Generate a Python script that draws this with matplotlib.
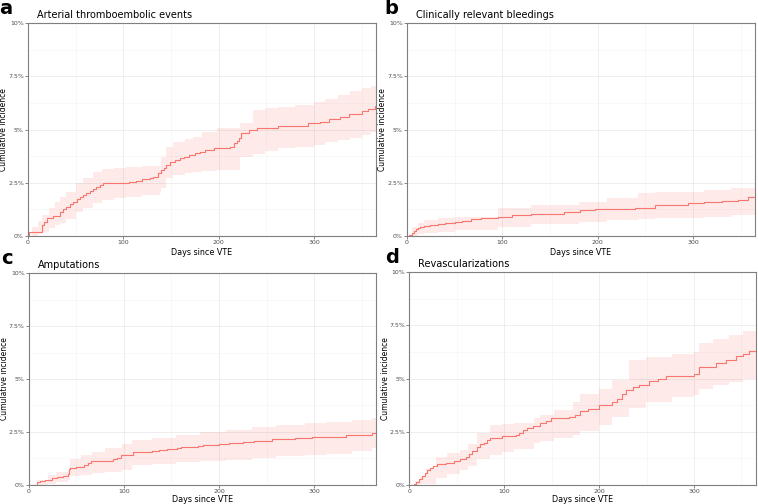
import matplotlib
matplotlib.use("Agg")
import matplotlib.pyplot as plt

# ---- data (days since VTE, cumulative incidence in %) ----
titles = ["Arterial thromboembolic events", "Clinically relevant bleedings",
          "Amputations", "Revascularizations"]
letters = ["a", "b", "c", "d"]

yticks = [0, 2.5, 5, 7.5, 10]
ytick_labels = ["0%", "2.5%", "5%", "7.5%", "10%"]
xticks = [0, 100, 200, 300]

# a: arterial thromboembolic events
a_days = [0, 1, 13, 15, 17, 20, 26, 33, 37, 40, 44, 47, 51, 54, 58, 61, 65, 68, 71, 75,
          79, 106, 113, 120, 128, 131, 136, 140, 143, 145, 149, 154, 159, 164, 169, 175,
          180, 186, 195, 212, 216, 219, 221, 223, 232, 240, 262, 294, 306, 316, 327, 337,
          350, 357, 364, 365]
a_inc = [0, 0.2, 0.2, 0.5, 0.67, 0.83, 0.94, 1.14, 1.26, 1.38, 1.5, 1.61, 1.73, 1.85,
         1.93, 2.0, 2.1, 2.21, 2.32, 2.4, 2.48, 2.55, 2.6, 2.66, 2.72, 2.76, 2.95, 3.1,
         3.2, 3.34, 3.49, 3.58, 3.65, 3.72, 3.81, 3.88, 3.96, 4.05, 4.15, 4.2, 4.35, 4.45,
         4.6, 4.85, 4.97, 5.05, 5.17, 5.3, 5.37, 5.48, 5.6, 5.72, 5.88, 5.97, 6.1, 6.1]
a_band_days = [0, 4, 10, 15, 22, 28, 33, 40, 50, 58, 68, 78, 90, 103, 120, 138, 140, 145,
               152, 165, 173, 182, 198, 222, 236, 249, 262, 280, 300, 312, 325, 338, 350,
               360, 365]
a_low = [0, 0, 0.1, 0.2, 0.35, 0.5, 0.6, 0.8, 1.14, 1.3, 1.54, 1.7, 1.77, 1.85, 1.92,
         2.0, 2.24, 2.71, 2.87, 2.95, 3.02, 3.07, 3.1, 3.73, 3.85, 4.0, 4.12, 4.2, 4.28,
         4.4, 4.5, 4.62, 4.75, 4.9, 4.98]
a_up = [0, 0.4, 0.7, 1.0, 1.3, 1.6, 1.85, 2.05, 2.48, 2.7, 2.98, 3.13, 3.18, 3.23, 3.27,
        3.29, 3.73, 4.2, 4.43, 4.55, 4.67, 4.9, 5.05, 5.3, 5.9, 6.0, 6.05, 6.15, 6.3,
        6.45, 6.6, 6.8, 6.95, 7.05, 7.15]

# b: clinically relevant bleedings
b_days = [0, 2, 5, 7, 9, 11, 14, 18, 24, 32, 40, 50, 58, 67, 78, 95, 110, 130, 150,
          165, 178, 181, 197, 239, 260, 295, 312, 330, 347, 358, 365]
b_inc = [0, 0.05, 0.12, 0.22, 0.3, 0.36, 0.42, 0.47, 0.52, 0.56, 0.61, 0.67, 0.72, 0.78,
         0.84, 0.91, 0.96, 1.02, 1.05, 1.1, 1.13, 1.22, 1.25, 1.33, 1.46, 1.54, 1.61,
         1.65, 1.69, 1.82, 1.85]
b_band_days = [0, 5, 11, 18, 32, 50, 95, 130, 180, 210, 242, 260, 312, 340, 365]
b_low = [0, 0, 0.08, 0.12, 0.2, 0.28, 0.44, 0.55, 0.67, 0.74, 0.8, 0.83, 0.91, 1.0, 1.19]
b_up = [0, 0.4, 0.6, 0.75, 0.83, 0.91, 1.3, 1.45, 1.61, 1.8, 2.0, 2.05, 2.15, 2.25, 2.4]

# c: amputations
c_days = [0, 9, 12, 17, 24, 30, 36, 41, 42, 43, 50, 53, 58, 62, 65, 83, 88, 93, 97,
          108, 110, 130, 137, 145, 156, 160, 178, 183, 200, 210, 225, 237, 256, 280,
          298, 333, 361, 365]
c_inc = [0, 0.13, 0.18, 0.25, 0.3, 0.37, 0.42, 0.5, 0.77, 0.8, 0.83, 0.85, 0.95, 1.05,
         1.13, 1.15, 1.24, 1.28, 1.4, 1.42, 1.55, 1.58, 1.66, 1.7, 1.73, 1.79, 1.85,
         1.9, 1.95, 1.98, 2.03, 2.08, 2.16, 2.22, 2.27, 2.35, 2.43, 2.43]
c_band_days = [0, 9, 20, 29, 41, 43, 55, 66, 80, 98, 109, 130, 155, 180, 207, 235,
               260, 290, 312, 340, 361, 365]
c_low = [0, 0, 0.06, 0.12, 0.21, 0.4, 0.48, 0.56, 0.62, 0.69, 0.92, 1.0, 1.08, 1.13,
         1.19, 1.27, 1.35, 1.42, 1.48, 1.58, 1.72, 1.72]
c_up = [0, 0.25, 0.45, 0.61, 0.69, 1.24, 1.4, 1.55, 1.75, 1.95, 2.11, 2.22, 2.35, 2.48,
        2.61, 2.72, 2.82, 2.9, 2.98, 3.05, 3.14, 3.14]

# d: revascularizations
d_days = [0, 5, 7, 10, 13, 16, 19, 22, 25, 29, 39, 47, 53, 60, 63, 66, 71, 75, 79, 82,
          85, 98, 112, 116, 120, 124, 130, 138, 144, 149, 168, 175, 180, 188, 200, 214,
          219, 224, 228, 236, 242, 253, 262, 270, 300, 305, 323, 334, 344, 352, 358, 365]
d_inc = [0, 0.03, 0.12, 0.27, 0.42, 0.55, 0.69, 0.8, 0.9, 0.96, 1.04, 1.12, 1.2, 1.32,
         1.45, 1.6, 1.79, 1.9, 1.95, 2.1, 2.2, 2.29, 2.35, 2.45, 2.57, 2.67, 2.78, 2.89,
         3.0, 3.12, 3.17, 3.3, 3.45, 3.55, 3.74, 3.9, 4.05, 4.25, 4.45, 4.6, 4.69, 4.88,
         4.98, 5.11, 5.2, 5.55, 5.71, 5.87, 6.05, 6.15, 6.28, 6.28]
d_band_days = [0, 6, 11, 18, 28, 40, 53, 62, 71, 85, 98, 110, 131, 138, 152, 172, 180,
               200, 214, 231, 249, 277, 300, 305, 320, 337, 352, 365]
d_low = [0, 0, 0.02, 0.05, 0.3, 0.5, 0.69, 0.9, 1.2, 1.4, 1.55, 1.7, 1.95, 2.05, 2.18,
         2.35, 2.55, 2.8, 3.2, 3.59, 3.9, 4.13, 4.22, 4.53, 4.7, 4.85, 5.0, 5.16]
d_up = [0, 0.2, 0.35, 0.75, 1.32, 1.5, 1.63, 1.9, 2.42, 2.81, 2.85, 2.9, 3.15, 3.28,
        3.51, 3.9, 4.25, 4.5, 4.93, 5.87, 6.02, 6.15, 6.26, 6.65, 6.85, 7.04, 7.25, 7.43]

panels = [
    (a_days, a_inc, a_band_days, a_low, a_up),
    (b_days, b_inc, b_band_days, b_low, b_up),
    (c_days, c_inc, c_band_days, c_low, c_up),
    (d_days, d_inc, d_band_days, d_low, d_up),
]

# axes rectangles in figure fractions (left, bottom, width, height)
rects = [
    [0.037, 0.532, 0.459, 0.422],
    [0.537, 0.532, 0.459, 0.422],
    [0.038, 0.038, 0.458, 0.420],
    [0.540, 0.038, 0.457, 0.422],
]
# letter x offsets (axes coords), xlabel y offsets
letter_x = [-0.082, -0.066, -0.08, -0.07]
xlab_y = [-0.055, -0.055, -0.05, -0.05]

line_col = "#F8766D"
fig = plt.figure(figsize=(7.58, 5.04), dpi=100)

for i, (days, inc, bdays, low, up) in enumerate(panels):
    ax = fig.add_axes(rects[i])
    ax.fill_between(bdays, low, up, step="post", color=line_col, alpha=0.15, lw=0)
    ax.step(days, inc, where="post", color=line_col, lw=0.8)
    ax.set_xlim(0, 365)
    ax.set_ylim(0, 10)
    ax.set_xticks(xticks)
    ax.set_xticks([50, 150, 250, 350], minor=True)
    ax.set_yticks(yticks)
    ax.set_yticklabels(ytick_labels)
    ax.set_yticks([1.25, 3.75, 6.25, 8.75], minor=True)
    ax.grid(which="major", color="#EBEBEB", lw=0.6)
    ax.grid(which="minor", color="#F3F3F3", lw=0.4)
    ax.set_axisbelow(True)
    ax.tick_params(which="major", length=2, width=0.5, color="#555555",
                   labelsize=4.5, labelcolor="#4D4D4D", pad=1)
    ax.tick_params(which="minor", length=0)
    for s in ax.spines.values():
        s.set_color("#7F7F7F")
        s.set_linewidth(0.8)
    ax.set_xlabel("Days since VTE", fontsize=5.8)
    ax.xaxis.set_label_coords(0.5, xlab_y[i])
    ax.set_ylabel("Cumulative incidence", fontsize=5.5)
    ax.yaxis.set_label_coords(-0.057, 0.5)
    ax.text(0.026, 1.038, titles[i], transform=ax.transAxes, fontsize=7,
            va="center", ha="left")
    ax.text(letter_x[i], 1.07, letters[i], transform=ax.transAxes, fontsize=14,
            fontweight="bold", va="center", ha="left")

fig.savefig("out.png", dpi=100)
